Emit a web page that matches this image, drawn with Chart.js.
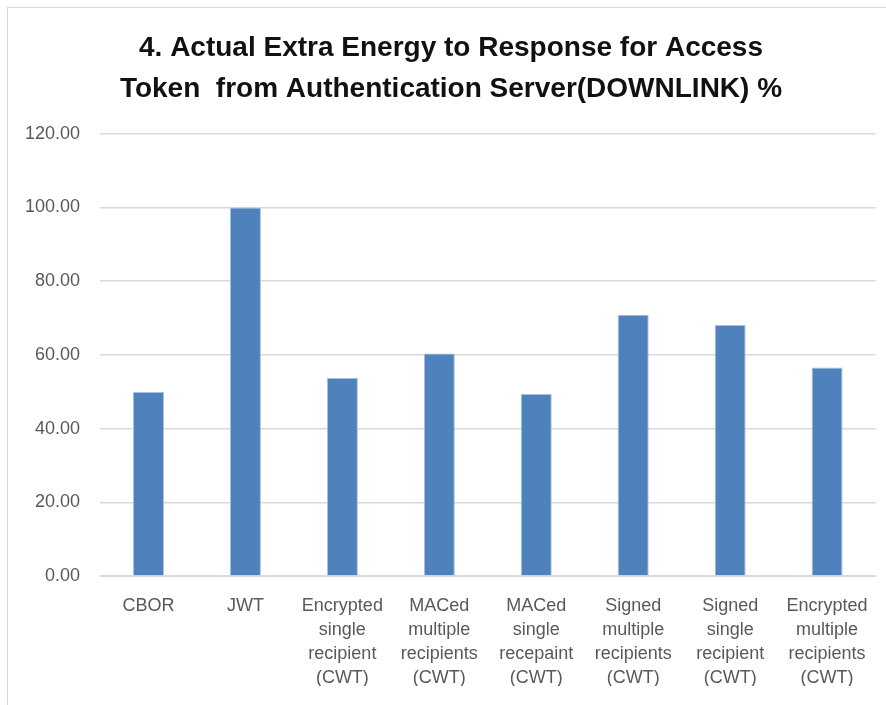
<!DOCTYPE html>
<html>
<head>
<meta charset="utf-8">
<script src="https://cdn.jsdelivr.net/npm/chart.js@4"></script>
<style>
  body { margin: 0; background: #fff; }
  #wrap { position: relative; width: 886px; height: 705px; }
  #frame {
    position: absolute; left: 7px; top: 7px; right: 0; bottom: 0;
    border-left: 1px solid #d9d9d9; border-top: 1px solid #d9d9d9;
    pointer-events: none;
  }
  canvas { position: absolute; left: 0; top: 0; }
</style>
</head>
<body>
<div id="wrap">
  <canvas id="myChart" width="886" height="705"></canvas>
  <div id="frame"></div>
</div>
<script>
const titleLines = [
  "4. Actual Extra Energy to Response for Access",
  "Token  from Authentication Server(DOWNLINK) %",
];

const categories = [
  ["CBOR"],
  ["JWT"],
  ["Encrypted", "single", "recipient", "(CWT)"],
  ["MACed", "multiple", "recipients", "(CWT)"],
  ["MACed", "single", "recepaint", "(CWT)"],
  ["Signed", "multiple", "recipients", "(CWT)"],
  ["Signed", "single", "recipient", "(CWT)"],
  ["Encrypted", "multiple", "recipients", "(CWT)"],
];

const energyValues = [49.9, 100.0, 53.7, 60.4, 49.4, 70.9, 68.1, 56.6];

const yMin = 0;
const yMax = 120;
const yStep = 20;

const chart = document.getElementById("myChart");

const config = {
  type: "bar",
  data: {
    labels: categories,
    datasets: [
      {
        label: "Extra energy %",
        data: energyValues,
        backgroundColor: "#4f81bd",
        borderColor: "#a9c1df",
        borderWidth: 1,
        barPercentage: 0.32,
        categoryPercentage: 1,
      },
    ],
  },
  options: {
    responsive: false,
    animation: false,
    layout: {
      padding: { left: 22, right: 6, top: 0, bottom: 19 },
    },
    plugins: {
      legend: { display: false },
      tooltip: { enabled: false },
      title: {
        display: true,
        text: titleLines,
        color: "#111",
        font: {
          family: "'Liberation Sans', Arial, sans-serif",
          size: 28,
          weight: "bold",
          lineHeight: 1.46,
        },
        padding: { top: 28, bottom: 24 },
      },
    },
    scales: {
      x: {
        afterFit: (scale) => {
          scale.height = 110;
        },
        grid: { display: false, drawTicks: false },
        border: { display: true, color: "#d9d9d9", width: 1 },
        ticks: {
          color: "#595959",
          autoSkip: false,
          maxRotation: 0,
          minRotation: 0,
          padding: 18,
          font: {
            family: "'Liberation Sans', Arial, sans-serif",
            size: 18,
            lineHeight: 1.34,
          },
        },
      },
      y: {
        min: yMin,
        max: yMax,
        afterFit: (scale) => {
          scale.width = 78;
        },
        grid: { color: "#d9d9d9", lineWidth: 1.5, drawTicks: false },
        border: { display: false },
        ticks: {
          stepSize: yStep,
          color: "#595959",
          padding: 20,
          font: {
            family: "'Liberation Sans', Arial, sans-serif",
            size: 18,
          },
          callback: (value) => value.toFixed(2),
        },
      },
    },
  },
};

window.myChart = new Chart(chart, config);
</script>
</body>
</html>
